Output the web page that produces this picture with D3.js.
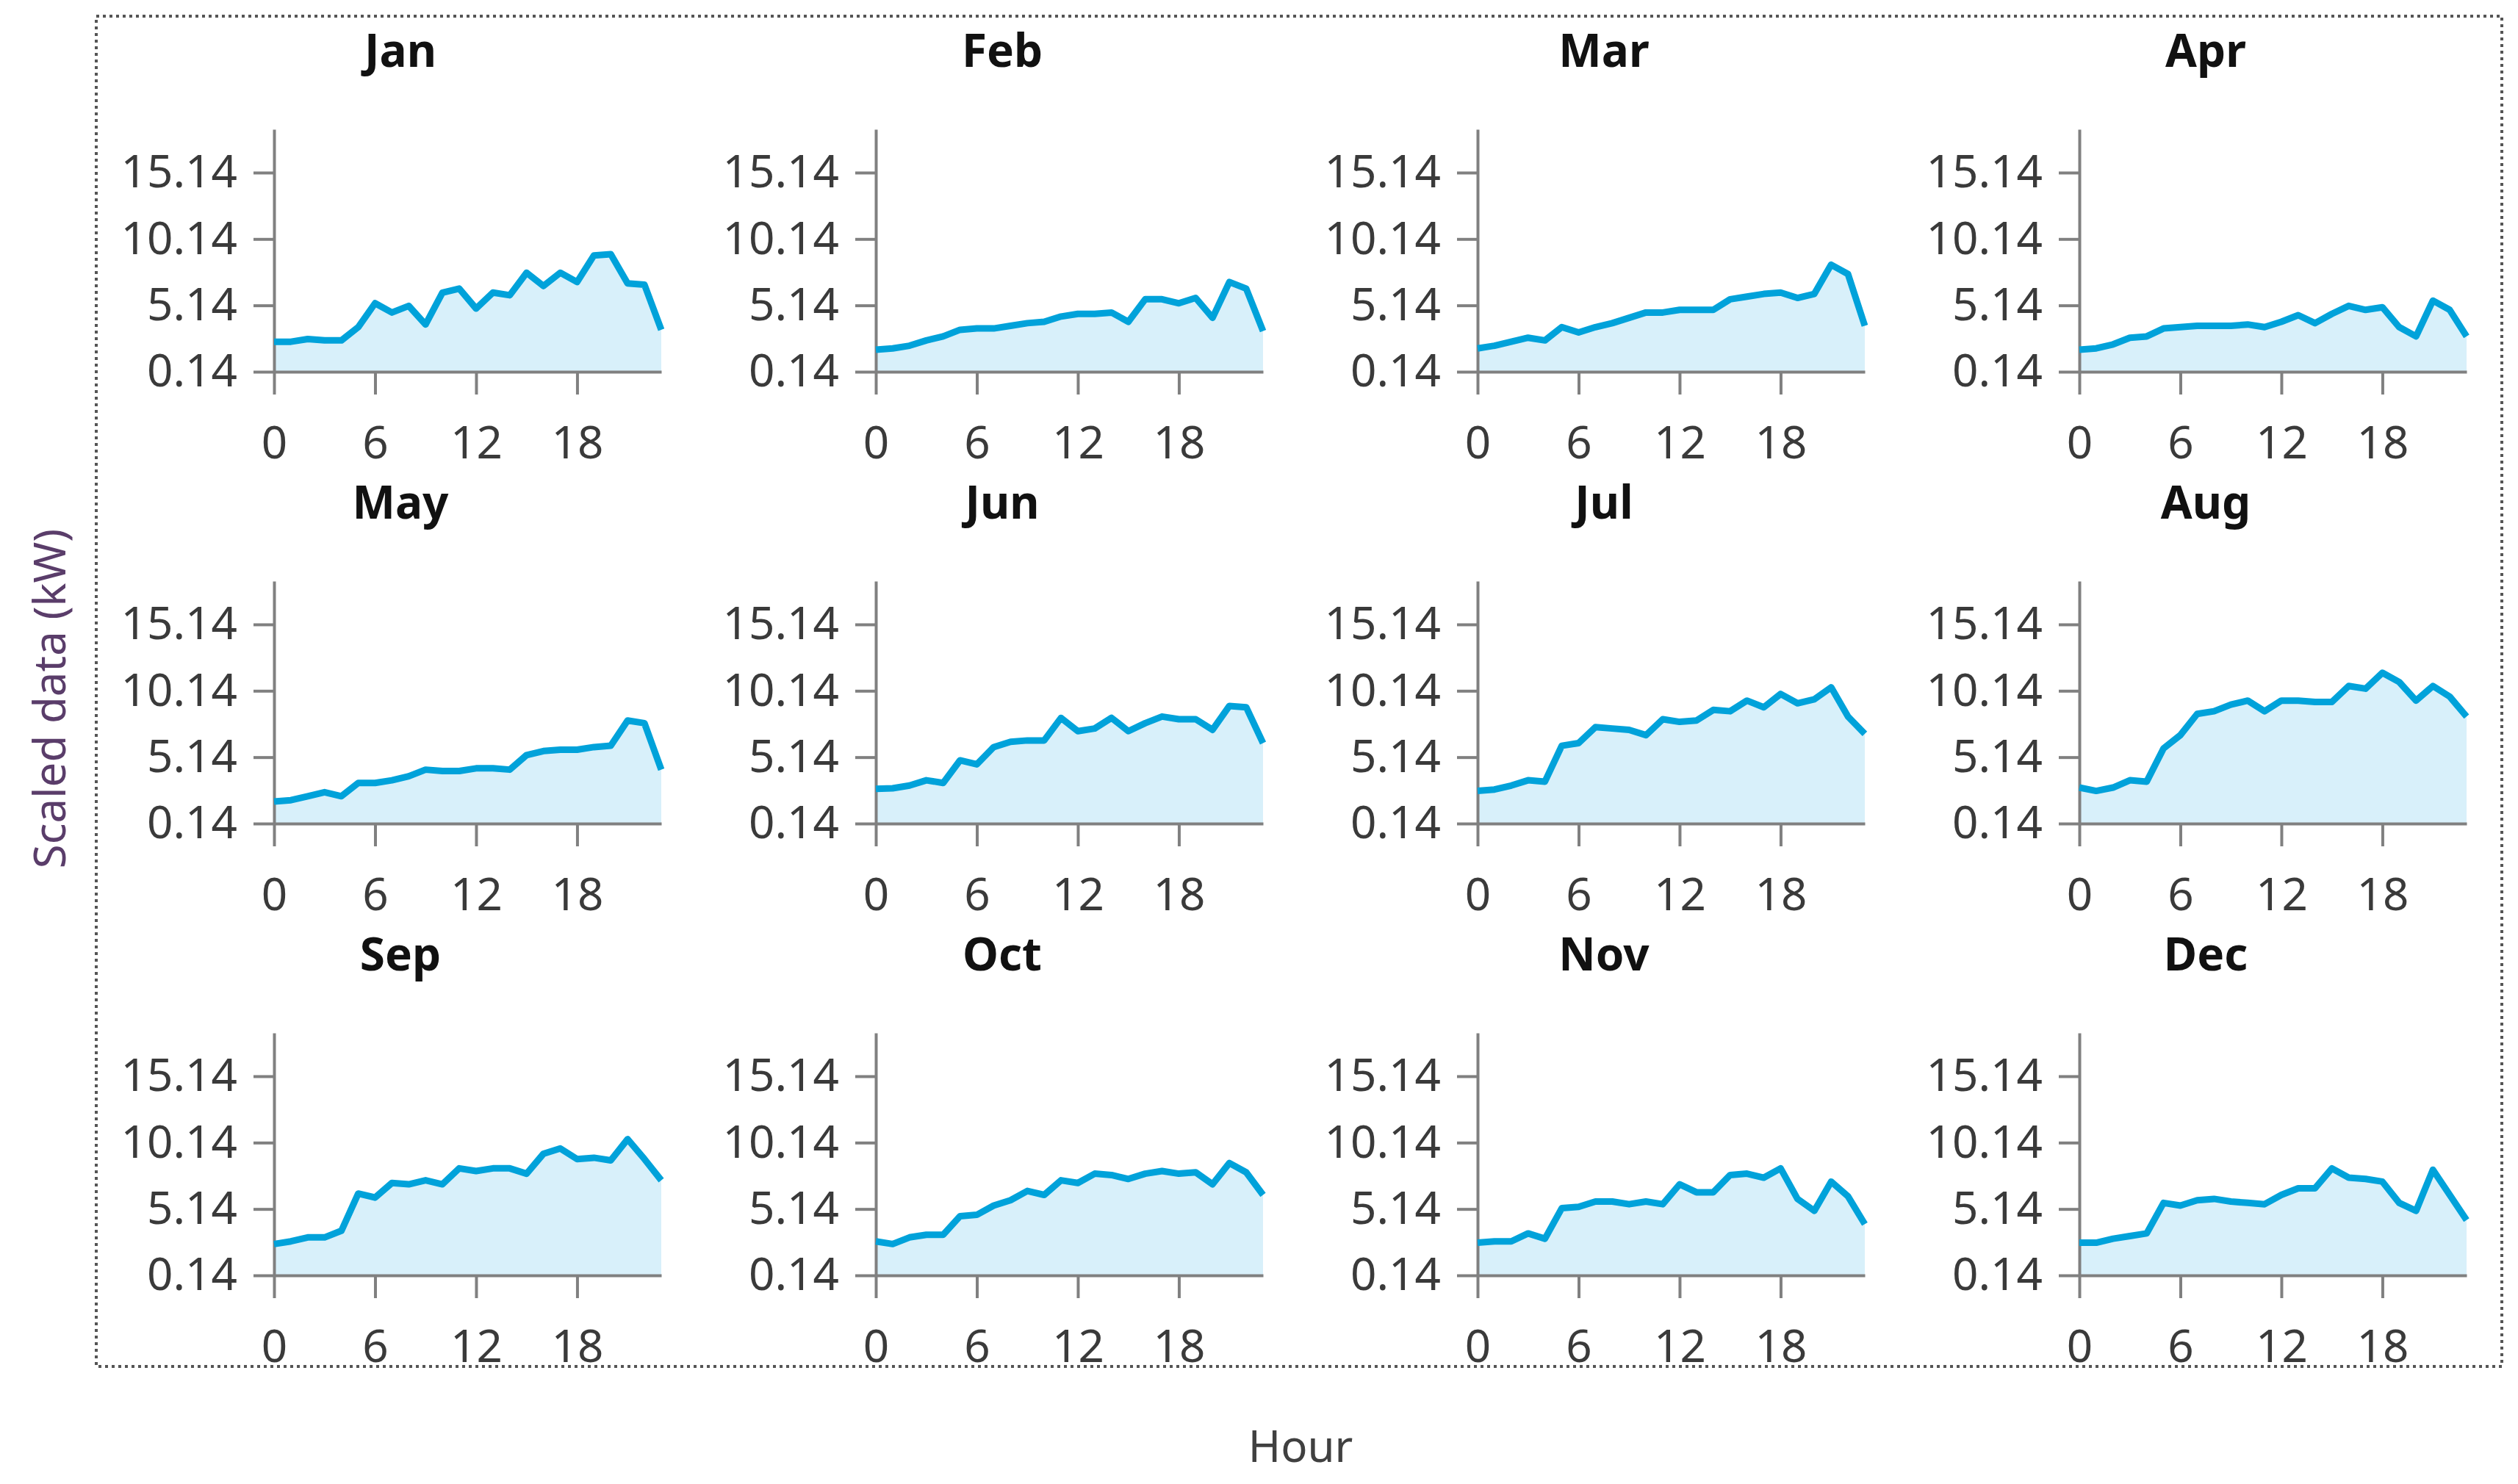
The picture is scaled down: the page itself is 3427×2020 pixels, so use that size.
<!DOCTYPE html>
<html>
<head>
<meta charset="utf-8">
<script src="https://cdn.jsdelivr.net/npm/d3@7"></script>
<style>
  html, body { margin: 0; padding: 0; background: #ffffff; }
  svg { display: block; }
</style>
</head>
<body>
<svg id="chart" width="3427" height="2020"></svg>
<script>
// ---------- data ----------
const months = ["Jan","Feb","Mar","Apr","May","Jun","Jul","Aug","Sep","Oct","Nov","Dec"];
const hours = d3.range(0, 24);
const xTickValues = [0, 6, 12, 18];
const yTickValues = [0.14, 5.14, 10.14, 15.14];

const jan = [2.4,2.4,2.6,2.5,2.5,3.5,5.3,4.6,5.1,3.7,6.1,6.4,4.9,6.1,5.9,7.6,6.6,7.6,6.9,8.9,9.0,6.8,6.7,3.3];
const feb = [1.8,1.9,2.1,2.5,2.8,3.3,3.4,3.4,3.6,3.8,3.9,4.3,4.5,4.5,4.6,3.9,5.6,5.6,5.3,5.7,4.2,6.9,6.4,3.2];
const mar = [1.9,2.1,2.4,2.7,2.5,3.5,3.1,3.5,3.8,4.2,4.6,4.6,4.8,4.8,4.8,5.6,5.8,6.0,6.1,5.7,6.0,8.2,7.5,3.6];
const apr = [1.8,1.9,2.2,2.7,2.8,3.4,3.5,3.6,3.6,3.6,3.7,3.5,3.9,4.4,3.8,4.5,5.1,4.8,5.0,3.5,2.8,5.5,4.8,2.8];
const may = [1.8,1.9,2.2,2.5,2.2,3.2,3.2,3.4,3.7,4.2,4.1,4.1,4.3,4.3,4.2,5.3,5.6,5.7,5.7,5.9,6.0,7.9,7.7,4.2];
const jun = [2.75,2.8,3.0,3.4,3.2,4.9,4.6,5.9,6.3,6.4,6.4,8.1,7.1,7.3,8.1,7.1,7.7,8.2,8.0,8.0,7.2,9.0,8.9,6.2];
const jul = [2.6,2.7,3.0,3.4,3.3,6.0,6.2,7.4,7.3,7.2,6.8,8.0,7.8,7.9,8.7,8.6,9.4,8.9,9.9,9.2,9.5,10.4,8.2,6.9];
const aug = [2.85,2.6,2.85,3.4,3.3,5.8,6.8,8.4,8.6,9.1,9.4,8.6,9.4,9.4,9.3,9.3,10.5,10.3,11.5,10.8,9.4,10.5,9.7,8.2];
const sep = [2.5,2.7,3.0,3.0,3.5,6.3,6.0,7.1,7.0,7.3,7.0,8.2,8.0,8.2,8.2,7.8,9.3,9.7,8.9,9.0,8.8,10.4,8.9,7.3];
const oct = [2.7,2.5,3.0,3.2,3.2,4.6,4.7,5.4,5.8,6.5,6.2,7.3,7.1,7.8,7.7,7.4,7.8,8.0,7.8,7.9,7.0,8.6,7.9,6.2];
const nov = [2.6,2.7,2.7,3.3,2.9,5.2,5.3,5.7,5.7,5.5,5.7,5.5,7.0,6.4,6.4,7.7,7.8,7.5,8.2,5.9,5.0,7.2,6.1,4.0];
const dec = [2.6,2.6,2.9,3.1,3.3,5.6,5.4,5.8,5.9,5.7,5.6,5.5,6.2,6.7,6.7,8.2,7.5,7.4,7.2,5.6,5.0,8.1,6.2,4.3];
const monthSeries = [jan,feb,mar,apr,may,jun,jul,aug,sep,oct,nov,dec];

const yLabel = "Scaled data (kW)";
const xLabel = "Hour";

// ---------- layout ----------
const FONT = "'Noto Sans', 'Open Sans', sans-serif";
const plotW = 527, plotH = 330;
const colX0 = 373, colStep = 819;
const rowTop0 = 176, rowStep = 615;
const yMax = 0.14 + plotH / 18.07;

const svg = d3.select("#chart");

// dotted frame
svg.append("rect")
  .attr("x", 131).attr("y", 22)
  .attr("width", 3405 - 131).attr("height", 1860 - 22)
  .attr("fill", "none")
  .attr("stroke", "#555")
  .attr("stroke-width", 4)
  .attr("stroke-dasharray", "4,5");

const x = d3.scaleLinear().domain([0, 23]).range([0, plotW]);
const y = d3.scaleLinear().domain([0.14, yMax]).range([plotH, 0]);

const area = d3.area().x((d, i) => x(hours[i])).y0(plotH).y1(d => y(d));
const line = d3.line().x((d, i) => x(hours[i])).y(d => y(d));

months.forEach((m, i) => {
  const col = i % 4, row = Math.floor(i / 4);
  const g = svg.append("g")
    .attr("transform", `translate(${colX0 + col * colStep},${rowTop0 + row * rowStep})`);

  g.append("path").datum(monthSeries[i])
    .attr("d", area)
    .attr("fill", "#d8f0fa");

  const ya = g.append("g")
    .call(d3.axisLeft(y).tickValues(yTickValues).tickFormat(d3.format(".2f"))
      .tickSize(28).tickSizeOuter(0).tickPadding(22));
  const xa = g.append("g").attr("transform", `translate(0,${plotH})`)
    .call(d3.axisBottom(x).tickValues(xTickValues).tickFormat(d3.format("d"))
      .tickSize(31).tickSizeOuter(0).tickPadding(43));

  [ya, xa].forEach(a => {
    a.selectAll("path.domain").attr("stroke", "#808080").attr("stroke-width", 4);
    a.selectAll(".tick line").attr("stroke", "#808080").attr("stroke-width", 4);
    a.selectAll(".tick text")
      .attr("fill", "#3a3a3a")
      .style("font-family", FONT)
      .style("font-size", "62px");
  });

  g.append("path").datum(monthSeries[i])
    .attr("d", line)
    .attr("fill", "none")
    .attr("stroke", "#00a2da")
    .attr("stroke-width", 9)
    .attr("stroke-linejoin", "round");

  g.append("text")
    .attr("x", 172).attr("y", -109)
    .attr("text-anchor", "middle")
    .attr("dominant-baseline", "central")
    .style("font-family", FONT)
    .style("font-weight", "bold")
    .style("font-size", "62px")
    .attr("fill", "#111")
    .text(m);
});

svg.append("text")
  .attr("transform", "translate(66,951) rotate(-90)")
  .attr("text-anchor", "middle")
  .attr("dominant-baseline", "central")
  .style("font-family", FONT)
  .style("font-size", "60px")
  .attr("fill", "#5a3d6a")
  .text(yLabel);

svg.append("text")
  .attr("x", 1770).attr("y", 1967)
  .attr("text-anchor", "middle")
  .attr("dominant-baseline", "central")
  .style("font-family", FONT)
  .style("font-size", "60px")
  .attr("fill", "#404040")
  .text(xLabel);
</script>
</body>
</html>
